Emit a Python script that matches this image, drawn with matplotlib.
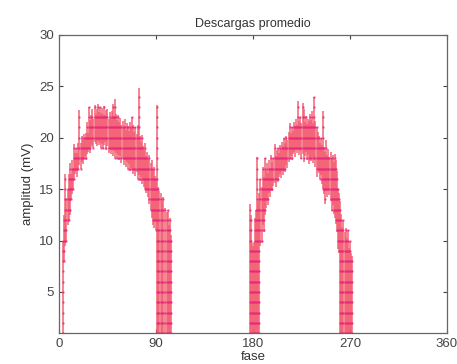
import matplotlib
matplotlib.use("Agg")
import matplotlib.pyplot as plt
import numpy as np

# first hump (phase in degrees, top and bottom of each discharge line, mV)
phase1 = [4, 5, 6, 7, 8, 9, 10, 11, 12, 13, 14, 15, 16, 17, 18, 19, 20, 21,
          22, 23, 24, 25, 26, 27, 28, 29, 30, 31, 32, 33, 34, 35, 36, 37, 38,
          39, 40, 41, 42, 43, 44, 45, 46, 47, 48, 49, 50, 51, 52, 53, 54, 55,
          56, 57, 58, 59, 60, 61, 62, 63, 64, 65, 66, 67, 68, 69, 70, 71, 72,
          73, 74, 75, 76, 77, 78, 79, 80, 81, 82, 83, 84, 85, 86, 87, 88, 89,
          90, 91, 92, 93, 95, 96, 97, 98, 100, 101, 102, 103, 104]
top1 = [10, 12.5, 16.5, 14, 15, 16.5, 17.5, 16.5, 17.8, 17, 19.4, 18.5, 19,
        18.5, 19.5, 22.7, 19.5, 20.2, 19.8, 20.4, 20, 20.5, 21.5, 20.5, 23,
        21.7, 22.2, 22.8, 21.8, 23.2, 22.3, 22.8, 23.3, 22.5, 23, 22.4, 22.9,
        22.3, 23.1, 22.2, 22.7, 22.8, 21.8, 22.5, 21.9, 22.6, 23.3, 22, 23.8,
        22.3, 21.7, 22.2, 21.5, 21.9, 21.2, 21.6, 21, 21.8, 20.8, 21.4, 21.1,
        20.7, 21.5, 20.9, 22.0, 21.2, 20.6, 21.0, 20.4, 21.2, 24.8, 20.2,
        19.6, 20.3, 19.2, 18.8, 19.5, 18.2, 18.6, 17.9, 18.3, 17.5, 17.8,
        16.9, 17.2, 16.3, 16.0, 23.2, 15.2, 14.8, 14.6, 13.8, 14.2, 13.2,
        12.8, 13.0, 11.5, 12.2, 10.5]
low1 = [1, 8, 9.5, 10, 11.5, 12, 12.5, 14, 14.5, 15, 16, 16.5, 16.8, 16.2, 17,
        17.3, 17, 17.6, 17.4, 17.9, 18.2, 17.8, 18.4, 18.6, 18.9, 18.5, 19.1,
        19.3, 19, 19.6, 19.4, 19.2, 19.7, 19.3, 19.5, 19, 19.4, 18.9, 19.3,
        19.6, 18.8, 19.2, 18.5, 19, 18.4, 18.8, 18.2, 18.7, 18, 18.5, 17.9,
        18.3, 17.8, 18.2, 17.5, 18, 17.3, 17.8, 17.2, 17.6, 17.0, 17.4, 16.8,
        17.1, 16.9, 16.5, 17.0, 16.3, 16.7, 16.0, 16.4, 15.8, 16.2, 15.5,
        15.9, 15.2, 15.0, 14.6, 14.9, 14.2, 13.6, 13.0, 12.2, 11.5, 11.2,
        12.0, 11.0, 1, 1, 1, 1, 1, 1, 1, 1, 1, 1, 1, 1]

# second hump
phase2 = list(range(177, 273))
top2 = [13.6, 12.5, 9.8, 9.5, 9.9, 12.2, 13.0, 18.1, 13.8, 14.6, 16.0, 15.2,
        17.2, 16.2, 18.0, 16.8, 17.5, 16.6, 17.8, 17.1, 18.3, 17.6, 18.0,
        19.4, 18.2, 18.8, 19.0, 18.5, 19.3, 18.9, 19.6, 19.2, 20.0, 19.5,
        20.2, 19.8, 20.6, 21.4, 20.5, 21.0, 20.7, 21.5, 21.1, 21.8, 21.2,
        23.6, 21.6, 22.0, 21.4, 23.4, 22.8, 21.5, 22.1, 21.3, 21.8, 21.6,
        22.3, 21.7, 22.6, 21.4, 24.0, 21.6, 21.0, 20.6, 20.2, 19.5, 20.0,
        19.3, 22.6, 19.1, 18.6, 19.8, 18.3, 18.9, 18.1, 18.6, 17.9, 18.3,
        17.6, 18.4, 17.8, 16.8, 15.0, 14.6, 13.8, 12.6, 11.3, 12.0, 10.8,
        11.2, 10.2, 11.0, 9.3, 10.0, 8.8, 8.5]
low2 = [1, 1, 1, 1, 1, 1, 1, 1, 1, 1, 9.5, 9.8, 11.5, 10.8, 12.5, 13.2, 14.0,
        13.5, 14.6, 14.2, 15.0, 14.8, 15.3, 15.6, 15.2, 16.0, 15.7, 16.2,
        16.5, 16.1, 16.8, 16.4, 17.0, 16.7, 17.3, 17.1, 17.6, 17.9, 18.2,
        17.8, 18.4, 18.6, 18.1, 18.8, 18.5, 18.9, 18.3, 18.7, 17.9, 18.4,
        17.6, 18.2, 18.6, 17.8, 18.3, 17.4, 18.0, 17.7, 18.1, 17.5, 17.9,
        17.2, 16.2, 17.0, 16.6, 16.0, 16.4, 15.5, 15.0, 14.5, 13.6, 14.8,
        14.2, 15.0, 14.4, 13.8, 12.9, 13.5, 12.6, 12.2, 11.6, 10.8, 9.2, 8.8,
        1, 1, 1, 1, 1, 1, 1, 1, 1, 1, 1, 1]

phase = np.array(phase1 + phase2, dtype=float)
top = np.array(top1 + top2)
low = np.array(low1 + low2)

plt.rcParams["font.family"] = ["Liberation Sans", "DejaVu Sans"]

fig = plt.figure(figsize=(4.57, 3.64), dpi=100)
ax = fig.add_axes([0.129, 0.085, 0.849, 0.819])

ax.vlines(phase, low, top, color="#f25a6c", lw=1.3, alpha=0.8)

# magenta dots on the quantised amplitude levels of each trace
px, py = [], []
for p, lo, hi in zip(phase, low, top):
    levels = np.arange(np.ceil(lo), np.floor(hi) + 1)
    px.extend([p] * len(levels))
    py.extend(levels)
ax.plot(px, py, ".", color="#e8287e", ms=1.6, alpha=0.6)

ax.set_xlim(0, 360)
ax.set_ylim(1, 30)
ax.set_xticks([0, 90, 180, 270, 360])
ax.set_yticks([5, 10, 15, 20, 25, 30])
ax.tick_params(direction="in", top=True, right=True, labelsize=9.5,
               colors="#444444", length=3)
for s in ax.spines.values():
    s.set_color("#666666")
    s.set_linewidth(0.9)

ax.set_title("Descargas promedio", fontsize=9, color="#333333", pad=6)
ax.set_xlabel("fase", fontsize=9.5, color="#333333", labelpad=1)
ax.set_ylabel("amplitud (mV)", fontsize=9.5, color="#333333", labelpad=4)

fig.savefig("out.png", dpi=100)
